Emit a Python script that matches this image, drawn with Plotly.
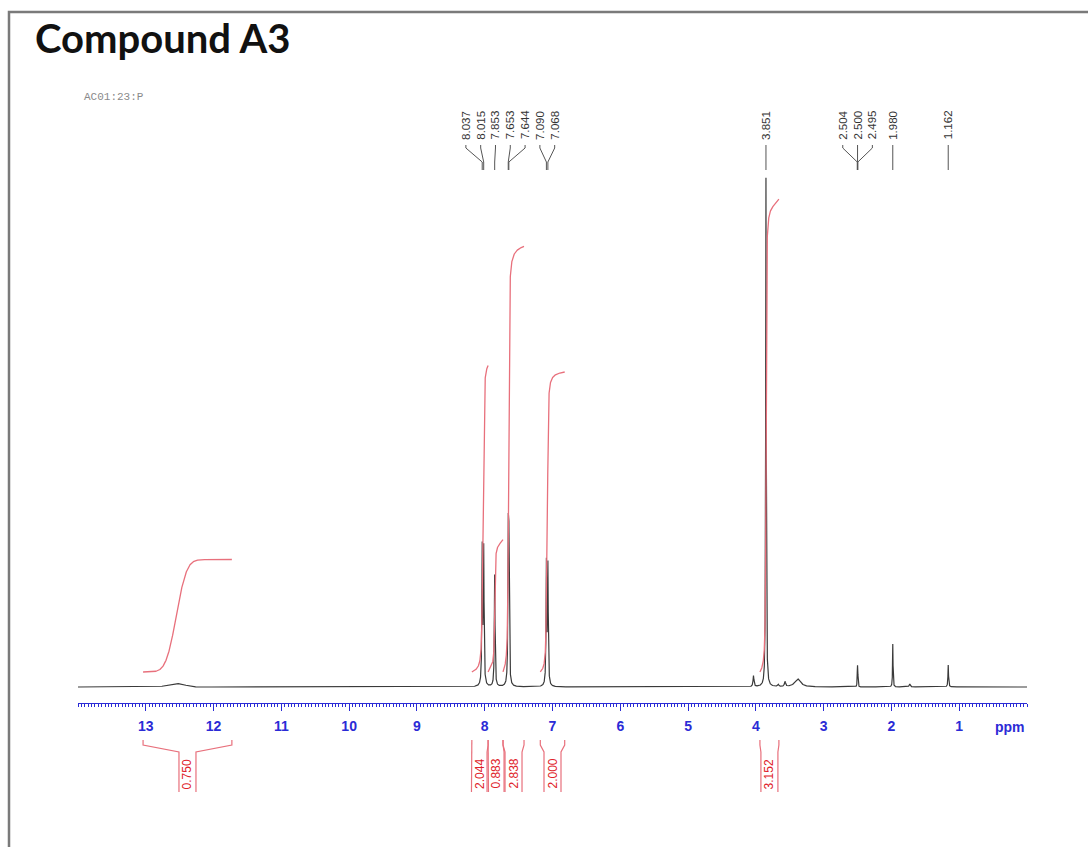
import numpy as np
import plotly.graph_objects as go

# ---------------- data ----------------
# peak list: chemical shift (ppm), height (arb. units), half-width (ppm), lineshape
peak_ppm    = [12.55, 8.037, 8.015, 7.853, 7.653, 7.644, 7.090, 7.068, 4.035, 3.851, 3.670, 3.570, 3.380, 2.504, 2.500, 2.495, 1.980, 1.730, 1.162]
peak_height = [3.5,   136,   134,   112,   131,   129,   121,   118,   11,    509,   2,     5,     8,     9,     16,    9,     43,    3,     22]
peak_hw     = [0.12,  0.006, 0.006, 0.006, 0.006, 0.006, 0.006, 0.006, 0.008, 0.005, 0.010, 0.010, 0.050, 0.003, 0.003, 0.003, 0.004, 0.010, 0.005]
peak_shape  = ["G",   "L",   "L",   "L",   "L",   "L",   "L",   "L",   "L",   "L",   "L",   "L",   "L",   "L",   "L",   "L",   "L",   "L",   "L"]

# integration regions (ppm) and integral values
int_start = [13.04, 8.19, 7.95, 7.73, 7.18, 3.94]
int_end   = [11.73, 7.95, 7.73, 7.42, 6.82, 3.66]
int_value = [0.750, 2.044, 0.883, 2.838, 2.000, 3.152]

# peak-pick labels: label text and shift
label_text = ["8.037", "8.015", "7.853", "7.653", "7.644", "7.090", "7.068",
              "3.851", "2.504", "2.500", "2.495", "1.980", "1.162"]
label_ppm = [float(t) for t in label_text]

tick_vals = list(range(1, 14))
title_text = "Compound A3"
sample_text = "AC01:23:P"

# ---------------- geometry / style ----------------
W, H = 1088, 847
X0, X1 = 78, 1027          # pixel extent of the ppm axis
PPM_MAX, PPM_MIN = 14.0, 0.0
BASE = 687                 # pixel row of the spectrum baseline
PX_PER_PPM = (X1 - X0) / (PPM_MAX - PPM_MIN)

def py(p):                 # pixel row -> data y (1 unit = 1 px, upward)
    return BASE - p

BLUE = "#2b2bd6"
RED_LINE = "#e8707c"
RED_TEXT = "#e0222a"
SPEC = "#3a3a3a"

# ---------------- spectrum ----------------
x = np.linspace(PPM_MAX, PPM_MIN, 28001)
y = np.zeros_like(x)
for p, h, w, s in zip(peak_ppm, peak_height, peak_hw, peak_shape):
    if s == "G":
        y += h * np.exp(-0.5 * ((x - p) / w) ** 2)
    else:
        y += h / (1.0 + ((x - p) / w) ** 2)

fig = go.Figure()
fig.add_trace(go.Scatter(x=x, y=y, mode="lines",
                         line=dict(color=SPEC, width=1.2), hoverinfo="skip",
                         showlegend=False))

# ---------------- integral curves ----------------
INT_OFFSET = 15
INT_SCALE = 150
ix, iy = [], []
for a, b, v in zip(int_start, int_end, int_value):
    m = (x <= a) & (x >= b)
    xs = x[m]
    cs = np.cumsum(y[m])
    cs = cs / cs[-1]
    ix += list(xs) + [None]
    iy += list(INT_OFFSET + INT_SCALE * v * cs) + [None]
fig.add_trace(go.Scatter(x=ix, y=iy, mode="lines",
                         line=dict(color=RED_LINE, width=1.3), hoverinfo="skip",
                         showlegend=False))

# ---------------- integration brackets + values ----------------
half_box = 8.5 / PX_PER_PPM
bx, by = [], []
for a, b, v in zip(int_start, int_end, int_value):
    c = 0.5 * (a + b)
    L, R = c + half_box, c - half_box
    bx += [a, a, L, L, None, b, b, R, R, None]
    by += [py(740), py(745), py(752), py(792), None,
           py(740), py(745), py(752), py(792), None]
    fig.add_annotation(x=c, y=py(774), xref="x", yref="y", text=f"{v:.3f}",
                       textangle=-90, showarrow=False,
                       font=dict(family="Liberation Sans", size=12, color=RED_TEXT))
fig.add_trace(go.Scatter(x=bx, y=by, mode="lines",
                         line=dict(color=RED_LINE, width=1.2), hoverinfo="skip",
                         showlegend=False))

# ---------------- peak labels (spread to avoid overlap) ----------------
gap = 14.8 / PX_PER_PPM
lab = list(label_ppm)
for _ in range(400):
    for i in range(len(lab) - 1):
        g = lab[i] - lab[i + 1]
        if g < gap:
            s = (gap - g) / 2
            lab[i] += s
            lab[i + 1] -= s
lx, ly = [], []
for t, p, l in zip(label_text, label_ppm, lab):
    lx += [l, l, p, p, None]
    ly += [py(145), py(148), py(162), py(170), None]
    fig.add_annotation(x=l, y=py(125), xref="x", yref="y", text=t,
                       textangle=-90, showarrow=False,
                       font=dict(family="Liberation Sans", size=11.5, color="#333333"))
fig.add_trace(go.Scatter(x=lx, y=ly, mode="lines",
                         line=dict(color="#555555", width=1), hoverinfo="skip",
                         showlegend=False))

# ---------------- texts ----------------
fig.add_annotation(x=33 / W, y=1 - 12 / H, xref="paper", yref="paper",
                   text=f"<b>{title_text}</b>", showarrow=False,
                   xanchor="left", yanchor="top",
                   font=dict(family="Lato", size=40, color="#111111"))
fig.add_annotation(x=82 / W, y=1 - 97 / H, xref="paper", yref="paper",
                   text=sample_text, showarrow=False,
                   xanchor="left", yanchor="middle",
                   font=dict(family="Liberation Mono", size=11, color="#8a8a8a"))
fig.add_annotation(x=PPM_MIN, y=py(727), xref="x", yref="y",
                   text="<b>ppm</b>", showarrow=False,
                   xanchor="right", yanchor="middle",
                   font=dict(family="Liberation Sans", size=14, color=BLUE))

# frame
fig.add_shape(type="rect", xref="paper", yref="paper",
              x0=9 / W, x1=1.05, y0=-0.05, y1=1 - 12 / H,
              line=dict(color="#7a7a7a", width=2.5), fillcolor="rgba(0,0,0,0)")

fig.update_layout(
    width=W, height=H,
    margin=dict(l=0, r=0, t=0, b=0),
    paper_bgcolor="white", plot_bgcolor="white",
    showlegend=False,
    xaxis=dict(
        domain=[X0 / W, X1 / W],
        range=[PPM_MAX, PPM_MIN],
        anchor="free", position=1 - 703 / H,
        showgrid=False, zeroline=False,
        showline=True, linecolor=BLUE, linewidth=1,
        ticks="outside", ticklen=7, tickwidth=1, tickcolor=BLUE,
        tickvals=tick_vals, ticktext=[str(v) for v in tick_vals],
        ticklabelstandoff=3,
        tickfont=dict(family="Liberation Sans", size=14, color=BLUE, weight="bold"),
        minor=dict(dtick=0.05, ticklen=3, tickcolor=BLUE, ticks="outside", showgrid=False),
    ),
    yaxis=dict(
        domain=[0, 1], range=[-(H - BASE), BASE],
        visible=False, showgrid=False, zeroline=False,
    ),
)

fig.write_html("out.html", config={"displayModeBar": False},
               post_script="document.body.style.margin='0';document.body.style.overflow='hidden';")
